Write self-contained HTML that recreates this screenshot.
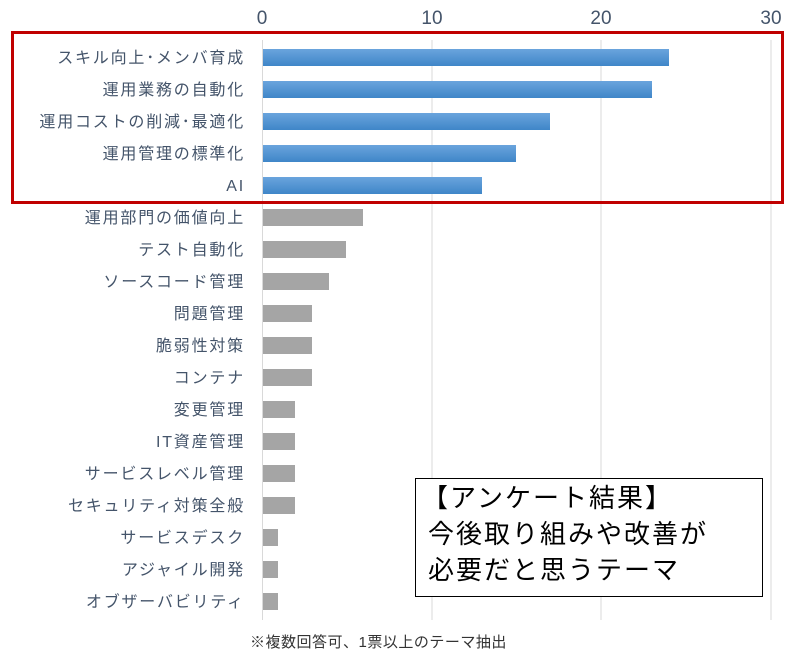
<!DOCTYPE html>
<html><head><meta charset="utf-8"><style>
html,body{margin:0;padding:0;background:#fff;}
text{font-family:"Liberation Sans","Noto Sans CJK JP",sans-serif;}
</style></head><body>
<svg width="791" height="657" xmlns="http://www.w3.org/2000/svg">
<defs><linearGradient id="b" x1="0" y1="0" x2="0" y2="1"><stop offset="0" stop-color="#6aa4dd"/><stop offset="1" stop-color="#3f86c8"/></linearGradient></defs>
<g stroke="#d9d9d9" stroke-width="1">
<line x1="262.5" y1="40" x2="262.5" y2="620"/>
<line x1="432" y1="40" x2="432" y2="620"/>
<line x1="601" y1="40" x2="601" y2="620"/>
<line x1="771" y1="40" x2="771" y2="620"/>
</g>
<g font-size="19" fill="#44546a" text-anchor="middle">
<text x="262" y="24">0</text><text x="432" y="24">10</text><text x="601" y="24">20</text><text x="771" y="24">30</text>
</g>
<g font-size="16" fill="#44546a" text-anchor="end" letter-spacing="1.8">
<text x="245" y="63">スキル向上･メンバ育成</text>
<text x="245" y="95">運用業務の自動化</text>
<text x="245" y="127">運用コストの削減･最適化</text>
<text x="245" y="159">運用管理の標準化</text>
<text x="245" y="191">AI</text>
<text x="245" y="223">運用部門の価値向上</text>
<text x="245" y="255">テスト自動化</text>
<text x="245" y="287">ソースコード管理</text>
<text x="245" y="319">問題管理</text>
<text x="245" y="351">脆弱性対策</text>
<text x="245" y="383">コンテナ</text>
<text x="245" y="415">変更管理</text>
<text x="245" y="447">IT資産管理</text>
<text x="245" y="479">サービスレベル管理</text>
<text x="245" y="511">セキュリティ対策全般</text>
<text x="245" y="543">サービスデスク</text>
<text x="245" y="575">アジャイル開発</text>
<text x="245" y="607">オブザーバビリティ</text>
</g>
<g fill="url(#b)">
<rect x="263" y="49" width="406" height="17"/>
<rect x="263" y="81" width="389" height="17"/>
<rect x="263" y="113" width="287" height="17"/>
<rect x="263" y="145" width="253" height="17"/>
<rect x="263" y="177" width="219" height="17"/>
</g>
<g fill="#a5a5a5">
<rect x="263" y="209" width="100" height="17"/>
<rect x="263" y="241" width="83" height="17"/>
<rect x="263" y="273" width="66" height="17"/>
<rect x="263" y="305" width="49" height="17"/>
<rect x="263" y="337" width="49" height="17"/>
<rect x="263" y="369" width="49" height="17"/>
<rect x="263" y="401" width="32" height="17"/>
<rect x="263" y="433" width="32" height="17"/>
<rect x="263" y="465" width="32" height="17"/>
<rect x="263" y="497" width="32" height="17"/>
<rect x="263" y="529" width="15" height="17"/>
<rect x="263" y="561" width="15" height="17"/>
<rect x="263" y="593" width="15" height="17"/>
</g>
<rect x="12.5" y="32.5" width="770" height="170" fill="none" stroke="#c00000" stroke-width="3"/>
<rect x="415.5" y="478.5" width="347" height="118" fill="#fff" stroke="#000" stroke-width="1"/>
<g font-size="26" fill="#000" letter-spacing="2">
<text x="422" y="507">【アンケート結果】</text>
<text x="428" y="543">今後取り組みや改善が</text>
<text x="428" y="579">必要だと思うテーマ</text>
</g>
<text x="250" y="647" font-size="15" fill="#333" letter-spacing="0.5">※複数回答可、1票以上のテーマ抽出</text>
</svg>
</body></html>
